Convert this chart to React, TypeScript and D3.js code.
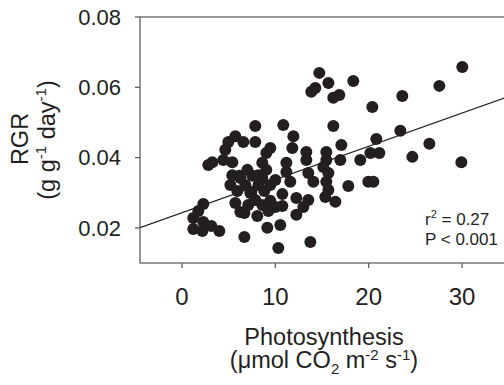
import React from "react";
import * as d3 from "d3";

const photosynthesis = [
  14.71, 15.68, 18.35, 14.28, 13.85, 16.85, 16.21, 30.03, 27.57, 23.6,
  20.39, 7.85, 10.85, 16.21, 11.93, 20.82, 23.39, 5.71, 4.96, 4.64,
  6.57, 7.85, 20.18, 21.14, 26.5, 24.68, 29.93, 19.1, 19.96, 20.5,
  17.82, 17.07, 16.96, 15.46, 15.46, 15.14, 15.68, 15.46, 15.68, 15.35,
  16.43, 13.32, 13.32, 13.53, 14.07, 11.82, 11.18, 11.18, 11.6, 10.0,
  12.25, 13.53, 13.0, 12.25, 13.75, 10.32, 9.14, 10.53, 6.68, 9.03,
  9.46, 10.75, 10.75, 9.46, 9.25, 8.07, 6.68, 5.71, 7.85, 8.82,
  5.93, 6.78, 6.14, 7.53, 7.0, 8.6, 5.39, 4.43, 3.25, 2.82,
  2.28, 1.75, 1.21, 2.28, 3.14, 1.21, 2.18, 4.0, 8.6, 9.03,
  10.0, 7.43, 6.25, 7.32, 6.25, 8.18, 5.18, 7.1, 8.6, 5.39,
  9.46, 8.18,
];
const rgr = [
  0.0641, 0.0612, 0.0618, 0.0598, 0.0587, 0.0578, 0.057, 0.0658, 0.0604, 0.0575,
  0.0544, 0.049, 0.0493, 0.049, 0.0461, 0.0453, 0.0476, 0.0461, 0.0444, 0.0422,
  0.0444, 0.0444, 0.0413, 0.0413, 0.0439, 0.0402, 0.0387, 0.0393, 0.0331, 0.0331,
  0.0319, 0.0436, 0.0393, 0.0416, 0.0393, 0.0373, 0.0356, 0.0331, 0.0308, 0.0288,
  0.0274, 0.0416, 0.0393, 0.0356, 0.0331, 0.0427, 0.0385, 0.0359, 0.0331, 0.0336,
  0.0285, 0.0279, 0.0259, 0.0237, 0.016, 0.0143, 0.02, 0.0208, 0.0174, 0.0413,
  0.0427, 0.0296, 0.0262, 0.0277, 0.0248, 0.0234, 0.0242, 0.0271, 0.0279, 0.0305,
  0.0305, 0.0322, 0.0348, 0.0348, 0.0365, 0.0385, 0.0387, 0.0393, 0.0387, 0.0379,
  0.0268, 0.0248, 0.0228, 0.0217, 0.0205, 0.0197, 0.0191, 0.0191, 0.0342, 0.0365,
  0.0259, 0.0302, 0.0342, 0.0299, 0.0245, 0.0322, 0.0322, 0.0265, 0.0265, 0.035,
  0.0322, 0.035,
];
const xTicks = [0, 10, 20, 30];
const yTicks = [0.02, 0.04, 0.06, 0.08];
const regIntercept = 0.0243;
const regSlope = 0.000945;

const FONT = "'Liberation Sans', Arial, sans-serif";

export default function App() {
  const W = 504;
  const H = 385;
  const x = d3.scaleLinear().domain([-4.5, 35]).range([140, 508.7]);
  const y = d3.scaleLinear().domain([0.01, 0.08]).range([263, 17]);
  const [x0, x1] = x.domain();
  const line = d3
    .line<number>()
    .x((d) => x(d))
    .y((d) => y(regIntercept + regSlope * d));
  const axisColor = "#555";
  const ink = "#231f20";
  return (
    <svg
      width={W}
      height={H}
      style={{ position: "absolute", left: 0, top: 0, background: "#fff" }}
    >
      <rect x={0} y={0} width={W} height={H} fill="#fff" />
      <defs>
        <clipPath id="plot">
          <rect x={x(x0)} y={y(0.08)} width={x(x1) - x(x0)} height={y(0.01) - y(0.08)} />
        </clipPath>
      </defs>
      <rect
        x={x(x0)}
        y={y(0.08)}
        width={x(x1) - x(x0)}
        height={y(0.01) - y(0.08)}
        fill="none"
        stroke={axisColor}
        strokeWidth={1.2}
      />
      {yTicks.map((t) => (
        <g key={"y" + t}>
          <line x1={x(x0) - 5} x2={x(x0)} y1={y(t)} y2={y(t)} stroke={axisColor} strokeWidth={1.2} />
          <text
            x={121}
            y={y(t)}
            dy="0.36em"
            textAnchor="end"
            fontFamily={FONT}
            fontSize={22}
            fill={ink}
          >
            {d3.format(".2f")(t)}
          </text>
        </g>
      ))}
      {xTicks.map((t) => (
        <g key={"x" + t}>
          <line x1={x(t)} x2={x(t)} y1={y(0.01)} y2={y(0.01) + 5} stroke={axisColor} strokeWidth={1.2} />
          <text
            x={x(t)}
            y={305}
            textAnchor="middle"
            fontFamily={FONT}
            fontSize={24}
            fill={ink}
          >
            {t}
          </text>
        </g>
      ))}
      <path
        d={line([x0, x1]) || ""}
        fill="none"
        stroke={ink}
        strokeWidth={1.2}
        clipPath="url(#plot)"
      />
      <g clipPath="url(#plot)">
        {photosynthesis.map((p, i) => (
          <circle key={i} cx={x(p)} cy={y(rgr[i])} r={6} fill={ink} />
        ))}
      </g>
      <text x={425} y={225} fontFamily={FONT} fontSize={17} fill={ink}>
        r<tspan dy={-7} fontSize={11}>2</tspan>
        <tspan dy={7}> = 0.27</tspan>
      </text>
      <text x={425} y={245} fontFamily={FONT} fontSize={17} fill={ink}>
        P &lt; 0.001
      </text>
      <text x={324} y={345} textAnchor="middle" fontFamily={FONT} fontSize={23.5} fill={ink}>
        Photosynthesis
      </text>
      <text x={324} y={368} textAnchor="middle" fontFamily={FONT} fontSize={23.5} fill={ink}>
        (μmol CO<tspan dy={6} fontSize={15}>2</tspan>
        <tspan dy={-6}> m</tspan>
        <tspan dy={-8} fontSize={15}>-2</tspan>
        <tspan dy={8}> s</tspan>
        <tspan dy={-8} fontSize={15}>-1</tspan>
        <tspan dy={8}>)</tspan>
      </text>
      <text
        transform={`translate(28,139) rotate(-90)`}
        textAnchor="middle"
        fontFamily={FONT}
        fontSize={23.5}
        fill={ink}
      >
        RGR
      </text>
      <text
        transform={`translate(55,140) rotate(-90)`}
        textAnchor="middle"
        fontFamily={FONT}
        fontSize={23.5}
        fill={ink}
      >
        (g g<tspan dy={-9} fontSize={15}>-1</tspan>
        <tspan dy={9}> day</tspan>
        <tspan dy={-9} fontSize={15}>-1</tspan>
        <tspan dy={9}>)</tspan>
      </text>
    </svg>
  );
}
